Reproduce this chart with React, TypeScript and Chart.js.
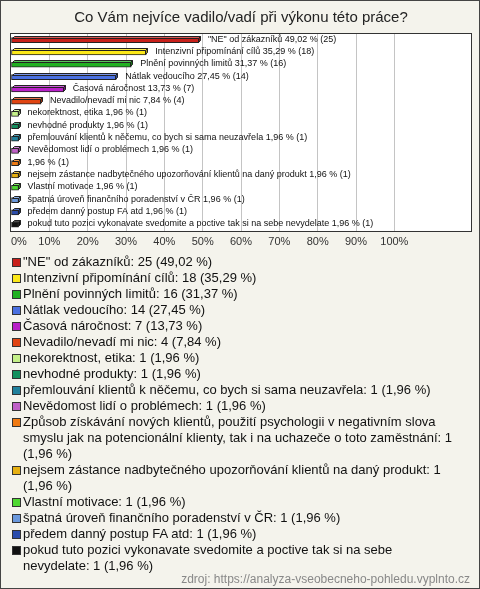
import React, { useEffect, useRef } from "react";
import { Chart, registerables } from "chart.js";

Chart.register(...registerables);

const title = "Co Vám nejvíce vadilo/vadí při výkonu této práce?";
const source = "zdroj: https://analyza-vseobecneho-pohledu.vyplnto.cz";

const categories = [
  '"NE" od zákazníků',
  "Intenzivní připomínání cílů",
  "Plnění povinných limitů",
  "Nátlak vedoucího",
  "Časová náročnost",
  "Nevadilo/nevadí mi nic",
  "nekorektnost, etika",
  "nevhodné produkty",
  "přemlouvání klientů k něčemu, co bych si sama neuzavřela",
  "Nevědomost lidí o problémech",
  "Způsob získávání nových klientů, použití psychologii v negativním slova smyslu jak na potencionální klienty, tak i na uchazeče o toto zaměstnání",
  "nejsem zástance nadbytečného upozorňování klientů na daný produkt",
  "Vlastní motivace",
  "špatná úroveň finančního poradenství v ČR",
  "předem danný postup FA atd",
  "pokud tuto pozici vykonavate svedomite a poctive tak si na sebe nevydelate",
];

const counts = [25, 18, 16, 14, 7, 4, 1, 1, 1, 1, 1, 1, 1, 1, 1, 1];

const percents = [
  49.02, 35.29, 31.37, 27.45, 13.73, 7.84, 1.96, 1.96, 1.96, 1.96, 1.96, 1.96,
  1.96, 1.96, 1.96, 1.96,
];

const colors = [
  "#c8201a",
  "#fbe818",
  "#20b020",
  "#4a70e0",
  "#b820c8",
  "#e04412",
  "#c4f088",
  "#12905e",
  "#20809c",
  "#c060c8",
  "#f07a12",
  "#e6b012",
  "#4ed830",
  "#6a98dc",
  "#2a4cac",
  "#111111",
];

const xMax = 120;
const xLabelMax = 100;
const xStep = 10;

const fmt = (v: number) => v.toFixed(2).replace(".", ",");

function shade(hex: string, f: number) {
  const n = parseInt(hex.slice(1), 16);
  let r = (n >> 16) & 255,
    g = (n >> 8) & 255,
    b = n & 255;
  if (f >= 0) {
    r = Math.round(r + (255 - r) * f);
    g = Math.round(g + (255 - g) * f);
    b = Math.round(b + (255 - b) * f);
  } else {
    r = Math.round(r * (1 + f));
    g = Math.round(g * (1 + f));
    b = Math.round(b * (1 + f));
  }
  return `rgb(${r},${g},${b})`;
}

const bar3d = {
  id: "bar3d",
  beforeDraw(chart: any) {
    const { ctx, chartArea: a } = chart;
    ctx.save();
    ctx.fillStyle = "#ffffff";
    ctx.fillRect(a.left, a.top, a.right - a.left, a.bottom - a.top);
    ctx.restore();
  },
  afterDatasetsDraw(chart: any) {
    const { ctx, chartArea: a } = chart;
    const meta = chart.getDatasetMeta(0);
    const d = 2;
    ctx.save();
    ctx.lineWidth = 1;
    ctx.strokeStyle = "#222";
    meta.data.forEach((el: any, i: number) => {
      const { x, y, base, height } = el.getProps(
        ["x", "y", "base", "height"],
        true
      );
      const top = Math.round(y - height / 2) + 0.5;
      const bot = Math.round(y + height / 2) - 0.5;
      const xr = Math.round(x) - 0.5;
      const xl = Math.round(base) + 0.5;
      const c = colors[i];
      // top face
      ctx.beginPath();
      ctx.moveTo(xl, top);
      ctx.lineTo(xl + d, top - d);
      ctx.lineTo(xr + d, top - d);
      ctx.lineTo(xr, top);
      ctx.closePath();
      ctx.fillStyle = shade(c, 0.25);
      ctx.fill();
      ctx.stroke();
      // side face
      ctx.beginPath();
      ctx.moveTo(xr, top);
      ctx.lineTo(xr + d, top - d);
      ctx.lineTo(xr + d, bot - d);
      ctx.lineTo(xr, bot);
      ctx.closePath();
      ctx.fillStyle = shade(c, -0.35);
      ctx.fill();
      ctx.stroke();
      // label
      const name = categories[i].length > 100 ? "" : categories[i] + " ";
      const txt = `${name}${fmt(percents[i])} % (${counts[i]})`;
      ctx.fillStyle = "#111";
      ctx.font = '9px "Liberation Sans", Arial, sans-serif';
      ctx.textBaseline = "middle";
      ctx.textAlign = "left";
      ctx.fillText(txt, x + 9, y - 1);
    });
    // plot frame
    ctx.strokeStyle = "#333";
    ctx.strokeRect(
      Math.round(a.left) - 0.5,
      Math.round(a.top) - 0.5,
      Math.round(a.right - a.left) + 1,
      Math.round(a.bottom - a.top) + 1
    );
    ctx.restore();
  },
};

function ChartCanvas() {
  const ref = useRef<HTMLCanvasElement | null>(null);
  useEffect(() => {
    if (!ref.current) return;
    const chart = new Chart(ref.current, {
      type: "bar",
      data: {
        labels: categories,
        datasets: [
          {
            data: percents,
            backgroundColor: colors,
            borderColor: "#222",
            borderWidth: 1,
            borderSkipped: false,
            barThickness: 5,
          },
        ],
      },
      options: {
        indexAxis: "y",
        responsive: false,
        animation: false,
        devicePixelRatio: 1,
        layout: { padding: { left: 11, right: 9, top: 0, bottom: 5 } },
        plugins: {
          legend: { display: false },
          tooltip: { enabled: false },
          title: {
            display: true,
            text: title,
            color: "#222",
            font: { family: '"Liberation Sans", Arial, sans-serif', size: 15, weight: "normal" },
            padding: { top: 9, bottom: 7 },
          },
        },
        scales: {
          y: { display: false, offset: true },
          x: {
            min: 0,
            max: xMax,
            border: { display: false },
            grid: {
              drawTicks: false,
              color: (c: any) =>
                c.tick && c.tick.value > 0 && c.tick.value <= xLabelMax ? "#c4c4c4" : "rgba(0,0,0,0)",
              lineWidth: 1,
            },
            ticks: {
              stepSize: xStep,
              autoSkip: false,
              maxRotation: 0,
              align: "inner",
              padding: 5,
              color: "#333",
              font: { family: '"Liberation Sans", Arial, sans-serif', size: 11 },
              callback: (v: any) => (Number(v) <= xLabelMax ? `${v}%` : ""),
            },
          },
        },
      },
      plugins: [bar3d],
    } as any);
    return () => chart.destroy();
  }, []);
  return (
    <canvas
      ref={ref}
      width={480}
      height={259}
      style={{ position: "absolute", left: 0, top: 0, width: 480, height: 259 }}
    />
  );
}

export default function App() {
  return (
    <div
      style={{
        position: "relative",
        width: 480,
        height: 589,
        boxSizing: "border-box",
        border: "1px solid #444",
        background: "#f4f3ec",
        overflow: "hidden",
        fontFamily: '"Liberation Sans", Arial, sans-serif',
      }}
    >
      <style>{`body{margin:0}`}</style>
      <div style={{ position: "absolute", left: -1, top: -1 }}>
        <ChartCanvas />
      </div>
      <div
        style={{
          position: "absolute",
          left: 11,
          top: 253,
          width: 449,
          fontSize: 13,
          lineHeight: "16px",
          color: "#111",
        }}
      >
        {categories.map((c, i) => (
          <div key={i} style={{ display: "flex", alignItems: "flex-start" }}>
            <span
              style={{
                flex: "0 0 auto",
                width: 7,
                height: 7,
                marginTop: 4,
                marginRight: 2,
                background: colors[i],
                border: "1px solid #333",
              }}
            />
            <span>{`${c}: ${counts[i]} (${fmt(percents[i])} %)`}</span>
          </div>
        ))}
      </div>
      <div
        style={{
          position: "absolute",
          right: 9,
          top: 570,
          fontSize: 12,
          lineHeight: "16px",
          color: "#888",
        }}
      >
        {source}
      </div>
    </div>
  );
}
